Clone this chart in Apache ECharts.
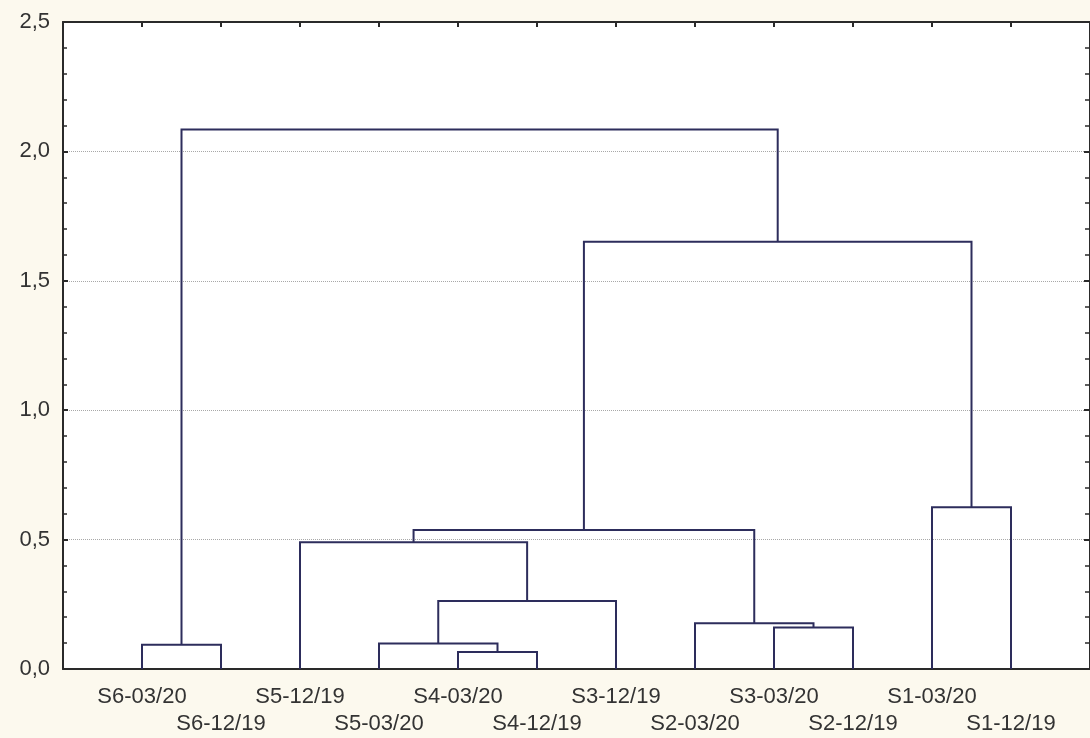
<!DOCTYPE html>
<html>
<head>
<meta charset="utf-8">
<script src="https://cdn.jsdelivr.net/npm/echarts@6/dist/echarts.min.js"></script>
<style>
html,body{margin:0;padding:0;background:#fcf9ee;}
#chart{width:1090px;height:738px;}
</style>
</head>
<body>
<div id="chart"></div>
<script>
// Leaf labels in dendrogram order
const leaves = ['S6-03/20','S6-12/19','S5-12/19','S5-03/20','S4-03/20','S4-12/19',
                'S3-12/19','S2-03/20','S3-03/20','S2-12/19','S1-03/20','S1-12/19'];
// Merges: [childA, childB] (indices: 0-11 leaves, 12+ earlier merges) and linkage heights
const mergeLeft   = [4, 0, 3, 8, 7, 14, 2, 18, 10, 19, 13];
const mergeRight  = [5, 1, 12, 9, 15, 6, 17, 16, 11, 20, 21];
const mergeHeight = [0.066, 0.094, 0.099, 0.160, 0.177, 0.263, 0.490, 0.537, 0.625, 1.651, 2.085];
const yTicks = [0, 0.5, 1.0, 1.5, 2.0, 2.5];

const n = leaves.length;
const nodeX = leaves.map((_, i) => i + 1);
const nodeH = leaves.map(() => 0);
const linksData = [];
mergeLeft.forEach((a, k) => {
  const b = mergeRight[k], h = mergeHeight[k];
  const xa = nodeX[a], xb = nodeX[b];
  linksData.push({coords: [[xa, nodeH[a]], [xa, h], [xb, h], [xb, nodeH[b]]]});
  nodeX.push((xa + xb) / 2);
  nodeH.push(h);
});

const fmtY = v => v.toFixed(1).replace('.', ',');
const textColor = '#333333';
const axisColor = '#2a2a2a';

const chart = echarts.init(document.getElementById('chart'));
chart.setOption({
  backgroundColor: '#fcf9ee',
  animation: false,
  grid: {left: 63, right: 0, top: 22, bottom: 69, show: true, backgroundColor: '#ffffff', borderWidth: 0},
  xAxis: [{
    type: 'value', min: 0, max: n + 1, interval: 1, position: 'bottom',
    axisLine: {show: true, onZero: false, lineStyle: {color: axisColor, width: 2}},
    axisTick: {show: false},
    splitLine: {show: false},
    axisLabel: {
      color: textColor, fontSize: 22, fontFamily: 'Liberation Sans, Arial, sans-serif',
      margin: 14, lineHeight: 27, showMinLabel: false, showMaxLabel: false,
      formatter: v => {
        const i = Math.round(v) - 1;
        if (i < 0 || i >= n) return '';
        return (i % 2 === 1 ? '\n' : '') + leaves[i];
      }
    }
  }, {
    type: 'value', min: 0, max: n + 1, interval: 1, position: 'top',
    axisLine: {show: true, onZero: false, lineStyle: {color: axisColor, width: 2}},
    axisTick: {show: true, inside: true, length: 5, lineStyle: {color: axisColor, width: 2}},
    axisLabel: {show: false},
    splitLine: {show: false}
  }],
  yAxis: [{
    type: 'value', min: yTicks[0], max: yTicks[yTicks.length - 1], interval: 0.5, position: 'left',
    axisLine: {show: true, onZero: false, lineStyle: {color: axisColor, width: 2}},
    axisTick: {show: true, inside: true, length: 5, lineStyle: {color: axisColor, width: 2}},
    minorTick: {show: true, splitNumber: 5, length: 4, lineStyle: {color: axisColor, width: 1.5}},
    splitLine: {show: true, lineStyle: {color: '#a8a8a8', type: 'dotted', width: 1}},
    axisLabel: {color: textColor, fontSize: 22, fontFamily: 'Liberation Sans, Arial, sans-serif',
                margin: 13, formatter: fmtY}
  }, {
    type: 'value', min: yTicks[0], max: yTicks[yTicks.length - 1], interval: 0.5, position: 'right',
    axisLine: {show: true, onZero: false, lineStyle: {color: axisColor, width: 2}},
    axisTick: {show: true, inside: true, length: 6, lineStyle: {color: axisColor, width: 2}},
    minorTick: {show: true, splitNumber: 5, length: 5, lineStyle: {color: axisColor, width: 1.5}},
    splitLine: {show: false},
    axisLabel: {show: false}
  }],
  series: [{
    type: 'lines',
    coordinateSystem: 'cartesian2d',
    xAxisIndex: 0, yAxisIndex: 0,
    polyline: true,
    silent: true,
    lineStyle: {color: '#2d2d5c', width: 2, opacity: 1},
    data: linksData
  }]
});
</script>
</body>
</html>
